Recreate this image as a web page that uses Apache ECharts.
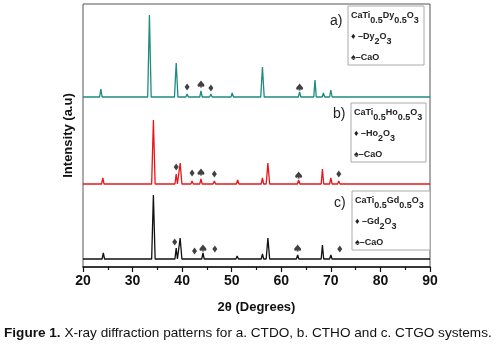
<!DOCTYPE html>
<html>
<head>
    <meta charset="utf-8" />
    <title>XRD patterns</title>
    <script src="https://cdn.jsdelivr.net/npm/echarts@6/dist/echarts.min.js"></script>
</head>
<body style="margin:0;background:#fff;">
    <div id="main" style="width:498px;height:353px;"></div>
    <script type="text/javascript">
        // peak positions (2theta) and heights above each baseline
        var dyPos = [23.6, 33.4, 38.8, 41.0, 43.8, 45.8, 50.1, 54.3, 56.2, 61.5, 63.7, 66.8, 68.5, 70.0, 76.0, 83.0, 87.0];
        var dyInt = [8, 82, 34, 3, 6, 3, 4, 1.5, 30, 2, 5, 17, 4, 7, 1, 2, 1];
        var hoPos = [24.0, 34.2, 38.8, 39.6, 42.0, 43.8, 46.5, 51.2, 56.2, 57.3, 63.5, 68.3, 70.0, 71.6, 83.0];
        var hoInt = [6, 64, 10, 21, 3, 5, 3, 4, 6, 21, 4, 15, 6, 3, 1];
        var gdPos = [24.1, 34.2, 38.8, 39.6, 42.5, 44.2, 46.6, 51.1, 56.2, 57.3, 63.3, 68.3, 70.0, 71.8];
        var gdInt = [6, 64, 11, 21, 2, 6, 2, 3, 5, 21, 4, 14, 4, 2];
        // vertical offsets of the stacked patterns
        var baseDy = 170, baseHo = 83, baseGd = 8;

        // phase markers [2theta, height]
        var diamonds = [[41.0, 180], [45.8, 179], [38.8, 100], [42.0, 94], [46.5, 93], [71.6, 93],
                        [38.5, 25], [42.5, 16], [46.6, 18], [71.8, 18]];
        var spades = [[43.8, 183], [63.7, 180], [43.8, 95], [63.5, 92], [44.2, 19], [63.3, 19]];

        var xTicks = [20, 30, 40, 50, 60, 70, 80, 90];

        function pattern(pos, ints, base) {
            var pts = [[20, base]];
            for (var i = 0; i < pos.length; i++) {
                var w = ints[i] > 20 ? 0.35 : 0.25;
                pts.push([pos[i] - w, base]);
                pts.push([pos[i], base + ints[i]]);
                pts.push([pos[i] + w, base]);
            }
            pts.push([90, base]);
            return pts;
        }

        var spadePath = 'path://M5,0 C7,3 10,5 10,7 C10,9 7,9.5 5.6,8 L6.6,10 L3.4,10 L4.4,8 C3,9.5 0,9 0,7 C0,5 3,3 5,0 Z';

        var chart = echarts.init(document.getElementById('main'));

        var rich = {
            n: { font: 'bold 9px "Liberation Sans"', fill: '#222', lineHeight: 14, verticalAlign: 'top' },
            s: { font: 'bold 9px "Liberation Sans"', fill: '#222', lineHeight: 14, verticalAlign: 'bottom' }
        };

        function legendBox(x, y, w, h, tag, tagY, el) {
            return [
                { type: 'rect', shape: { x: x, y: y, width: w, height: h },
                  style: { fill: '#fff', stroke: '#aaa', lineWidth: 1 }, z: 10 },
                { type: 'text', x: x - 18, y: tagY, z: 11,
                  style: { text: tag, font: '14px "Liberation Sans"', fill: '#222', verticalAlign: 'middle' } },
                { type: 'text', x: x + 3, y: y + 12, z: 11,
                  style: { text: '{n|CaTi}{s|0.5}{n|' + el + '}{s|0.5}{n|O}{s|3}', verticalAlign: 'middle', rich: rich } },
                { type: 'text', x: x + 3, y: y + 33, z: 11,
                  style: { text: '{n|\u2666 \u2013' + el + '}{s|2}{n|O}{s|3}', verticalAlign: 'middle', rich: rich } },
                { type: 'text', x: x + 3, y: y + 52, z: 11,
                  style: { text: '\u2660\u2013CaO', font: 'bold 9px "Liberation Sans"', fill: '#222', verticalAlign: 'middle' } }
            ];
        }

        chart.setOption({
            animation: false,
            backgroundColor: '#fff',
            grid: { left: 83, right: 68, top: 4, bottom: 86, show: true, borderColor: '#555', borderWidth: 1 },
            xAxis: {
                type: 'value', min: 20, max: 90, interval: 10,
                name: '2\u03b8 (Degrees)', nameLocation: 'middle', nameGap: 34,
                nameTextStyle: { fontFamily: 'Liberation Sans', fontWeight: 'bold', fontSize: 13, color: '#111' },
                axisLine: { lineStyle: { color: '#111', width: 1.5 } },
                axisTick: { inside: false, length: 5, lineStyle: { color: '#111', width: 1.2 } },
                minorTick: { show: true, splitNumber: 2, length: 3, lineStyle: { color: '#111', width: 1.2 } },
                axisLabel: { fontFamily: 'Liberation Sans', fontWeight: 'bold', fontSize: 14, color: '#111', margin: 7,
                    formatter: function (v) { return xTicks.indexOf(v) >= 0 ? v : ''; } },
                splitLine: { show: false }
            },
            yAxis: {
                type: 'value', min: 0, max: 263,
                name: 'Intensity (a.u)', nameLocation: 'middle', nameGap: 8,
                nameTextStyle: { fontFamily: 'Liberation Sans', fontWeight: 'bold', fontSize: 13, color: '#111' },
                axisLine: { show: false }, axisTick: { show: false }, axisLabel: { show: false },
                splitLine: { show: false }
            },
            series: [
                { type: 'line', data: pattern(dyPos, dyInt, baseDy), showSymbol: false,
                  lineStyle: { color: '#1e8a80', width: 1.3 } },
                { type: 'line', data: pattern(hoPos, hoInt, baseHo), showSymbol: false,
                  lineStyle: { color: '#e8161b', width: 1.3 } },
                { type: 'line', data: pattern(gdPos, gdInt, baseGd), showSymbol: false,
                  lineStyle: { color: '#111', width: 1.3 } },
                { type: 'scatter', data: diamonds, symbol: 'diamond', symbolSize: [5, 7],
                  itemStyle: { color: '#111' } },
                { type: 'scatter', data: spades, symbol: spadePath, symbolSize: 7,
                  itemStyle: { color: '#111' } }
            ],
            graphic: [].concat(
                legendBox(348, 6, 76, 59, 'a)', 21, 'Dy'),
                legendBox(351, 103, 75, 59, 'b)', 114, 'Ho'),
                legendBox(352, 191, 78, 59, 'c)', 203, 'Gd'),
                [{ type: 'text', left: 4, top: 326,
                   style: { text: '{b|Figure 1.} X-ray diffraction patterns for a. CTDO, b. CTHO and c. CTGO systems.',
                     font: '13.6px "Liberation Sans"', fill: '#111',
                     rich: { b: { font: 'bold 13.6px "Liberation Sans"', fill: '#111' } } } }]
            )
        });
    </script>
</body>
</html>
